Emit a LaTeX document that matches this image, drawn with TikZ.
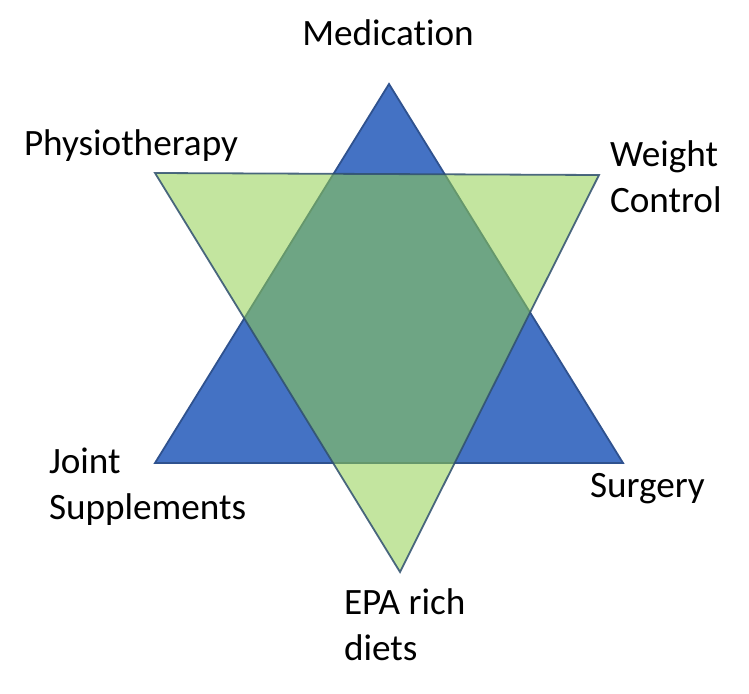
\documentclass[tikz,border=0pt]{standalone}
\usepackage{fontspec}
\setmainfont[Ligatures=NoCommon]{Carlito}
\definecolor{triblue}{HTML}{4472C4}
\definecolor{triblueline}{HTML}{2F528F}
\definecolor{trigreen}{HTML}{92D050}
\definecolor{trigreenline}{HTML}{2F4F6F}
\tikzset{
  lbl/.style={inner sep=0pt, outer sep=0pt, align=left, text=black,
    font=\fontsize{37.2}{46}\selectfont},
  bluetri/.style={fill=triblue, draw=triblueline, line width=1.8pt, line join=miter},
  greentri/.style={fill=trigreen, fill opacity=0.55, draw=trigreenline, draw opacity=0.85, line width=1.8pt, line join=miter}
}
\begin{document}
\begin{tikzpicture}[x=1pt,y=-1pt]
\useasboundingbox (0,0) rectangle (749,693);
\coordinate (bA) at (389,84);
\coordinate (bL) at (155,463);
\coordinate (bR) at (623,463);
\coordinate (gL) at (155,173);
\coordinate (gR) at (599,175);
\coordinate (gB) at (400,572);
\draw[bluetri] (bA) -- (bR) -- (bL) -- cycle;
\draw[greentri] (gL) -- (gR) -- (gB) -- cycle;
\node[lbl, anchor=base] (med) at (388,46) {Medication};
\node[lbl, anchor=base west] (phy) at (24,155) {Physiotherapy};
\node[lbl, anchor=base west] (wc) at (610,212) {Weight\\Control};
\node[lbl, anchor=base west] (js) at (49,519) {Joint\\Supplements};
\node[lbl, anchor=base west] (sur) at (590,497) {Surgery};
\node[lbl, anchor=base west] (epa) at (344,660) {EPA rich\\diets};
\end{tikzpicture}
\end{document}
